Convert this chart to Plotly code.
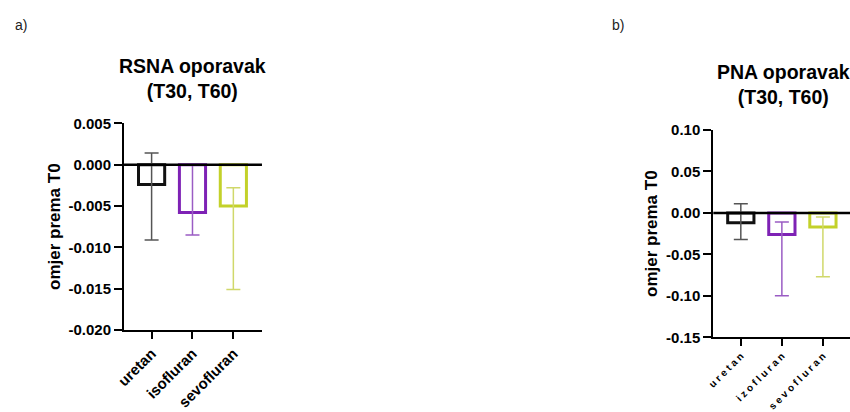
import plotly.graph_objects as go

# ---------------- data ----------------
categories_a = ["uretan", "isofluran", "sevofluran"]
rsna_mean = [-0.0024, -0.0058, -0.0050]
rsna_upper = [0.0014, 0.0000, -0.0028]
rsna_lower = [-0.0091, -0.0085, -0.0151]
rsna_tickvals = [0.005, 0.0, -0.005, -0.010, -0.015, -0.020]
rsna_ticktext = ["0.005", "0.000", "-0.005", "-0.010", "-0.015", "-0.020"]

categories_b = ["uretan", "izofluran", "sevofluran"]
pna_mean = [-0.012, -0.026, -0.017]
pna_upper = [0.011, -0.011, -0.005]
pna_lower = [-0.032, -0.100, -0.077]
pna_tickvals = [0.10, 0.05, 0.0, -0.05, -0.10, -0.15]
pna_ticktext = ["0.10", "0.05", "0.00", "-0.05", "-0.10", "-0.15"]

bar_colors = ["#111111", "#7E22B5", "#C3D12A"]
err_colors = ["#555555", "#9a5cc4", "#d0d86a"]

FONT = "Arial, Liberation Sans, sans-serif"

fig = go.Figure()


def add_panel(cats, means, ups, lows, xa, ya):
    for i, c in enumerate(cats):
        fig.add_trace(go.Bar(
            x=[c], y=[means[i]],
            xaxis=xa, yaxis=ya,
            width=0.64,
            marker=dict(color="white", line=dict(color=bar_colors[i], width=3)),
            error_y=dict(type="data", symmetric=False,
                         array=[ups[i] - means[i]],
                         arrayminus=[means[i] - lows[i]],
                         color=err_colors[i], thickness=1.5, width=7),
            showlegend=False,
        ))


add_panel(categories_a, rsna_mean, rsna_upper, rsna_lower, "x", "y")
add_panel(categories_b, pna_mean, pna_upper, pna_lower, "x2", "y2")

axis_common = dict(showline=True, linecolor="black", linewidth=2,
                   ticks="outside", tickcolor="black", tickwidth=2,
                   showgrid=False, zeroline=False, automargin=False)

fig.update_layout(
    width=850, height=412,
    margin=dict(l=0, r=0, t=0, b=0, pad=0, autoexpand=False),
    paper_bgcolor="white", plot_bgcolor="white",
    barmode="overlay",
    font=dict(family=FONT, color="black"),
    xaxis=dict(domain=[0.1459, 0.3082], range=[-0.675, 2.7], anchor="y",
               ticklen=7, tickangle=-45,
               tickfont=dict(size=15, weight="bold", family=FONT),
               **axis_common),
    yaxis=dict(domain=[0.1990, 0.7007], range=[-0.020, 0.005], anchor="x",
               tickmode="array", tickvals=rsna_tickvals, ticktext=rsna_ticktext,
               ticklen=8,
               tickfont=dict(size=15, weight="bold", family=FONT),
               **axis_common),
    xaxis2=dict(domain=[0.8392, 1.0], range=[-0.67, 2.66], anchor="y2",
                ticklen=7, tickangle=-45,
                tickmode="array", tickvals=categories_b,
                ticktext=[" ".join(c) for c in categories_b],
                tickfont=dict(size=10, weight="bold", family=FONT),
                **axis_common),
    yaxis2=dict(domain=[0.1813, 0.6845], range=[-0.15, 0.10], anchor="x2",
                tickmode="array", tickvals=pna_tickvals, ticktext=pna_ticktext,
                ticklen=8,
                tickfont=dict(size=15, weight="bold", family=FONT),
                **axis_common),
)

# zero lines above bars
fig.add_shape(type="line", xref="x domain", yref="y", x0=0, x1=1, y0=0, y1=0,
              line=dict(color="black", width=2.5), layer="above")
fig.add_shape(type="line", xref="x2 domain", yref="y2", x0=0, x1=1, y0=0, y1=0,
              line=dict(color="black", width=2.5), layer="above")

ann = [
    dict(text="a)", x=0.0153, y=0.939, xanchor="left", yanchor="middle",
         font=dict(size=14, color="#222222")),
    dict(text="b)", x=0.7176, y=0.939, xanchor="left", yanchor="middle",
         font=dict(size=14, color="#222222")),
    dict(text="RSNA oporavak<br>(T30, T60)", x=0.2267, y=0.8095,
         xanchor="center", yanchor="middle",
         font=dict(size=19.5, weight="bold")),
    dict(text="PNA oporavak<br>(T30, T60)", x=0.9212, y=0.7937,
         xanchor="center", yanchor="middle",
         font=dict(size=19.5, weight="bold")),
    dict(text="omjer prema T0", x=0.0647, y=0.4515, textangle=-90,
         xanchor="center", yanchor="middle",
         font=dict(size=17, weight="bold")),
    dict(text="omjer prema T0", x=0.7665, y=0.4333, textangle=-90,
         xanchor="center", yanchor="middle",
         font=dict(size=17, weight="bold")),
]
for a in ann:
    a.update(xref="paper", yref="paper", showarrow=False)
    a["font"].setdefault("family", FONT)
    a["font"].setdefault("color", "black")
    fig.add_annotation(**a)

fig.write_html("out.html",
               config={"displayModeBar": False},
               post_script="document.body.style.margin='0';"
                           "document.body.style.overflow='hidden';")
